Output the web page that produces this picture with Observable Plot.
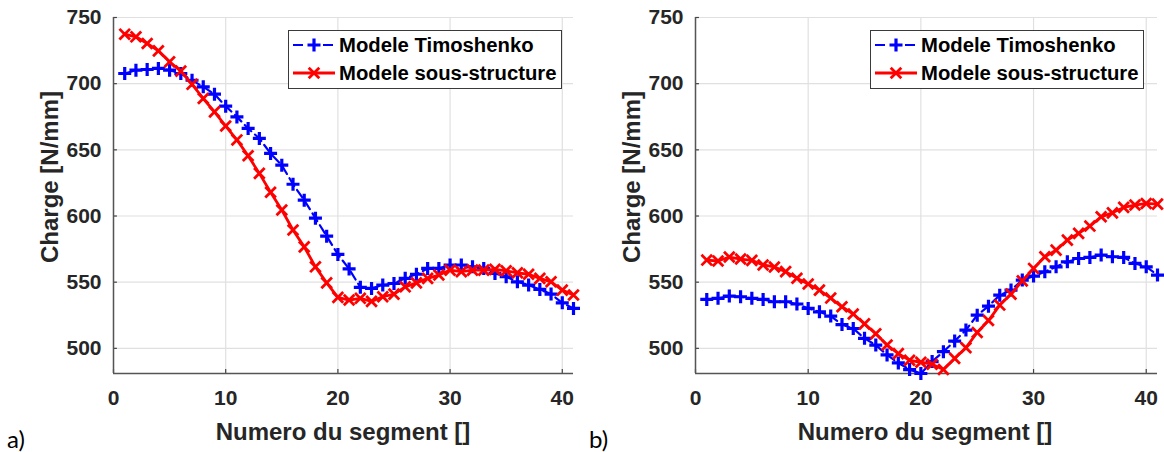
<!DOCTYPE html>
<html><head><meta charset="utf-8">
<script src="https://cdn.jsdelivr.net/npm/d3@7"></script>
<script src="https://cdn.jsdelivr.net/npm/@observablehq/plot@0.6"></script>
<style>
body{margin:0;background:#fff;}
#wrap{position:relative;width:1164px;height:452px;overflow:hidden;background:#fff;font-family:"Liberation Sans",Arial,sans-serif;}
.panel{position:absolute;top:0;}
.ylab{position:absolute;font-weight:bold;font-size:24px;color:#262626;white-space:nowrap;transform-origin:center center;}
.xlab{position:absolute;font-weight:bold;font-size:24px;color:#262626;white-space:nowrap;transform:translateX(-50%);}
.tag{position:absolute;font-family:Lato,"Open Sans",sans-serif;font-size:24px;color:#000;}
.legend{position:absolute;border:1.3px solid #3a3a3a;background:#fff;box-sizing:border-box;}
.row{display:flex;align-items:center;height:28px;font-weight:bold;font-size:20.3px;color:#000;white-space:nowrap;}
.row svg{margin-left:3px;margin-right:3px;}
</style></head>
<body><div id="wrap"></div>
<script>
// ---- data ----
const segments = [1,2,3,4,5,6,7,8,9,10,11,12,13,14,15,16,17,18,19,20,21,22,23,24,25,26,27,28,29,30,31,32,33,34,35,36,37,38,39,40,41];
const timoshenkoA = [707.7,710.2,710.7,711.5,710.2,707.7,702.6,697.6,692.1,683,674.9,666.2,658.6,647.3,638.4,624,612,598.4,584.8,571,560,546.1,545.3,547.8,549,552.9,556,560.4,560.4,563,563,561.6,560.4,556.6,554.1,550.3,547.8,544.5,541,534.4,530.2];
const sousStructureA = [737.4,735.4,730.4,724.8,716.5,709.5,699.5,688.8,678.7,668,657.5,645.5,632.2,618,604.5,589.4,576.7,561.6,549.5,538.5,536.5,537.8,535.5,539,541,546.5,549.5,552.9,555.4,559.1,557.9,559.1,559.1,559.7,558.6,557.1,556,552.9,550.3,544,540.3];
const timoshenkoB = [537,537.8,539.5,539,537.8,537,535.2,535.2,533.5,530.2,527.6,524.4,518,515,507.6,502.5,495,489,484,481,490,497.5,505.5,513.8,525.1,531.9,540.2,544,551.6,554.6,557.9,561.6,565.4,567.9,568.7,570.5,569.2,568.7,564.2,561.6,555.4];
const sousStructureB = [566.7,566,569,567.5,566.5,563,561.5,558,553,548.6,544,538,531.4,526,518.5,511,502.5,496,491,489.5,488,484,492.4,500.5,512,521,532.7,541,551,560.4,569.2,574.2,581.8,586.9,592.4,599.4,602.4,606.5,608.3,609.5,609];
const xTicks = [0,10,20,30,40];
const yTicks = [500,550,600,650,700,750];
const seriesNames = ["Modele Timoshenko","Modele sous-structure"];
const xLabel = "Numero du segment []";
const yLabel = "Charge [N/mm]";
const panelTags = ["a)","b)"];

const plusSym = {draw(c){const h=6.5;c.moveTo(-h,0);c.lineTo(h,0);c.moveTo(0,-h);c.lineTo(0,h);}};
const timesSym = {draw(c){const h=5.3;c.moveTo(-h,-h);c.lineTo(h,h);c.moveTo(-h,h);c.lineTo(h,-h);}};

function panel(t, s, mr) {
  const data = segments.map((x,i)=>({x, t:t[i], s:s[i]}));
  return Plot.plot({
    width: 582, height: 452, marginTop: 17, marginBottom: 79, marginLeft: 113, marginRight: mr,
    x: {domain:[0,41], ticks: xTicks, tickSize:0, tickPadding:17, label:null},
    y: {domain:[481,750], ticks: yTicks, tickSize:0, tickPadding:12, label:null},
    style: {fontFamily:"'Liberation Sans', Arial, sans-serif", fontSize:"21px", fontWeight:"bold", color:"#262626", background:"transparent", overflow:"visible"},
    marks: [
      Plot.ruleX(xTicks, {stroke:"#e0e0e0", strokeWidth:1.2}),
      Plot.ruleY(yTicks, {stroke:"#e0e0e0", strokeWidth:1.2}),
      Plot.ruleX(xTicks, {y1:481, y2:484, stroke:"#444", strokeWidth:1.2}),
      Plot.ruleY(yTicks, {x1:0, x2:0.35, stroke:"#444", strokeWidth:1.2}),
      Plot.ruleX([0], {stroke:"#555", strokeWidth:1.5}),
      Plot.ruleY([481], {stroke:"#555", strokeWidth:1.5}),
      Plot.line(data, {x:"x", y:"t", stroke:"#0000ff", strokeWidth:2.2, strokeDasharray:"9,5"}),
      Plot.dot(data, {x:"x", y:"t", symbol:plusSym, fill:"none", stroke:"#0000ff", strokeWidth:3.2}),
      Plot.line(data, {x:"x", y:"s", stroke:"#ff0000", strokeWidth:2.8}),
      Plot.dot(data, {x:"x", y:"s", symbol:timesSym, fill:"none", stroke:"#ff0000", strokeWidth:2.8})
    ]
  });
}

const wrap = document.getElementById("wrap");
const specs = [[timoshenkoA, sousStructureA, 0, 9], [timoshenkoB, sousStructureB, 582, 7]];
specs.forEach(([t,s,left,mr], k) => {
  const p = panel(t, s, mr);
  p.classList.add("panel");
  p.style.left = left + "px";
  wrap.appendChild(p);
  const yl = document.createElement("div");
  yl.className = "ylab"; yl.textContent = yLabel;
  wrap.appendChild(yl);
  const w = yl.offsetWidth, h = yl.offsetHeight;
  yl.style.left = (left + 50 - w/2) + "px";
  yl.style.top = (177 - h/2) + "px";
  yl.style.transform = "rotate(-90deg)";
  const xl = document.createElement("div");
  xl.className = "xlab"; xl.textContent = xLabel;
  xl.style.left = (left + 343) + "px"; xl.style.top = "418px";
  wrap.appendChild(xl);
  const tg = document.createElement("div");
  tg.className = "tag"; tg.textContent = panelTags[k];
  tg.style.left = (left + 7) + "px"; tg.style.top = "424px";
  wrap.appendChild(tg);
  const lg = document.createElement("div");
  lg.className = "legend";
  lg.style.left = (left + 288) + "px"; lg.style.top = "30px";
  lg.style.width = "274px"; lg.style.height = "59px";
  lg.innerHTML =
    `<div class="row"><svg width="44" height="20"><line x1="1" y1="10" x2="43" y2="10" stroke="#0000ff" stroke-width="2.2" stroke-dasharray="10,5"/><path d="M15.5,10h13M22,3.5v13" stroke="#0000ff" stroke-width="3.2" fill="none"/></svg><span>${seriesNames[0]}</span></div>` +
    `<div class="row"><svg width="44" height="20"><line x1="1" y1="10" x2="43" y2="10" stroke="#ff0000" stroke-width="2.8"/><path d="M16.7,4.7L27.3,15.3M16.7,15.3L27.3,4.7" stroke="#ff0000" stroke-width="2.8" fill="none"/></svg><span>${seriesNames[1]}</span></div>`;
  wrap.appendChild(lg);
});
</script></body></html>
